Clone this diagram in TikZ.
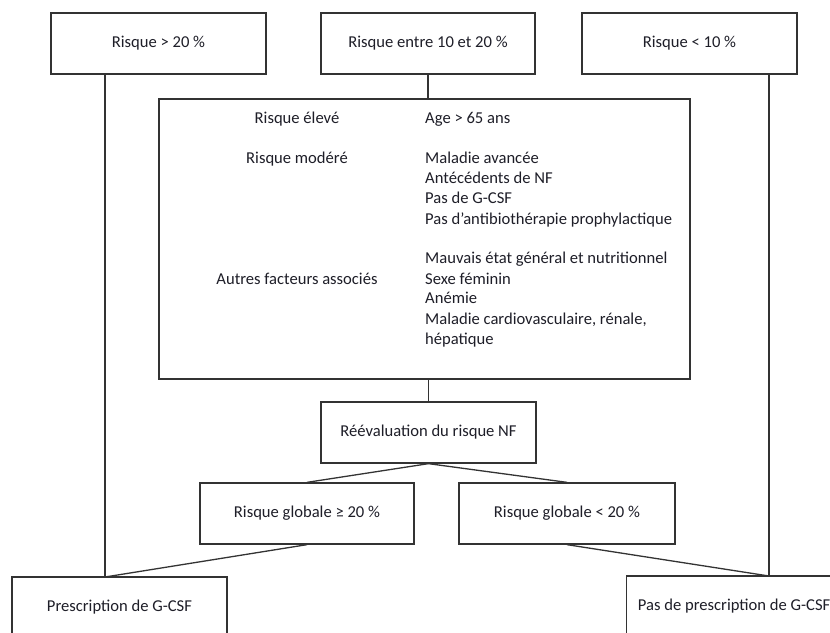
\documentclass[tikz,border=0pt]{standalone}
\usepackage{fontspec}
\setmainfont{Carlito}
\definecolor{linec}{HTML}{333333}
\definecolor{txtc}{HTML}{1E1E28}
\begin{document}
\begin{tikzpicture}[x=1pt,y=-1pt,
  every node/.style={text=txtc, font=\fontsize{16.6}{20.3}\selectfont},
  boxnode/.style={draw=linec, line width=1.3pt, minimum height=61pt, inner sep=0pt, fill=white},
  conn/.style={draw=linec, line width=1.3pt},
  txt/.style={inner sep=0pt, text height=11pt, text depth=3pt}]
\useasboundingbox (0,0) rectangle (830,632);
\clip (0,0) rectangle (830,632);
% top boxes
\node[boxnode, minimum width=215pt] (A) at (158.5,43.5) {Risque > 20 \%};
\node[boxnode, minimum width=214pt] (B) at (428,43.5) {Risque entre 10 et 20 \%};
\node[boxnode, minimum width=215pt] (C) at (689.5,43.5) {Risque < 10 \%};
% big box
\node[boxnode, minimum width=531pt, minimum height=280pt] (big) at (424.5,239) {};
% middle
\node[boxnode, minimum width=215pt] (R) at (428.5,432.5) {Réévaluation du risque NF};
\node[boxnode, minimum width=214pt] (G1) at (307,513.5) {Risque globale ≥ 20 \%};
\node[boxnode, minimum width=216pt] (G2) at (567,513.5) {Risque globale < 20 \%};
% bottom
\node[boxnode, minimum width=215pt] (P1) at (119.5,607.5) {Prescription de G-CSF};
\node[boxnode, minimum width=215pt, anchor=west] (P2) at (626,606.5) {\hspace*{10pt}Pas de prescription de G-CSF\hspace*{10pt}};
% join points
\coordinate (aL) at (105,577);
\coordinate (cR) at (769,576);
% big box contents
\node[txt] (l1) at (297,119) {Risque élevé};
\node[txt] (l2) at (297,159) {Risque modéré};
\node[txt] (l3) at (297,280) {Autres facteurs associés};
\node[txt, anchor=west] (r1) at (425,119) {Age > 65 ans};
\node[txt, anchor=west] (r2) at (425,159) {Maladie avancée};
\node[txt, anchor=west] (r3) at (425,179) {Antécédents de NF};
\node[txt, anchor=west] (r4) at (425,199.5) {Pas de G-CSF};
\node[txt, anchor=west] (r5) at (425,220) {Pas d’antibiothérapie prophylactique};
\node[txt, anchor=west] (r6) at (425,259) {Mauvais état général et nutritionnel};
\node[txt, anchor=west] (r7) at (425,280) {Sexe féminin};
\node[txt, anchor=west] (r8) at (425,299.5) {Anémie};
\node[txt, anchor=west] (r9) at (425,320) {Maladie cardiovasculaire, rénale,};
\node[txt, anchor=west] (r10) at (425,340) {hépatique};
% connectors
\draw[conn] (A.south -| aL) -- (aL);
\draw[conn] (C.south -| cR) -- (cR);
\draw[conn] (B.south) -- (B.south |- big.north);
\draw[conn] (R.north |- big.south) -- (R.north);
\draw[conn] (R.south) -- (G1.north);
\draw[conn] (R.south) -- (G2.north);
\draw[conn] (G1.south) -- (aL);
\draw[conn] (G2.south) -- (cR);
\end{tikzpicture}
\end{document}
